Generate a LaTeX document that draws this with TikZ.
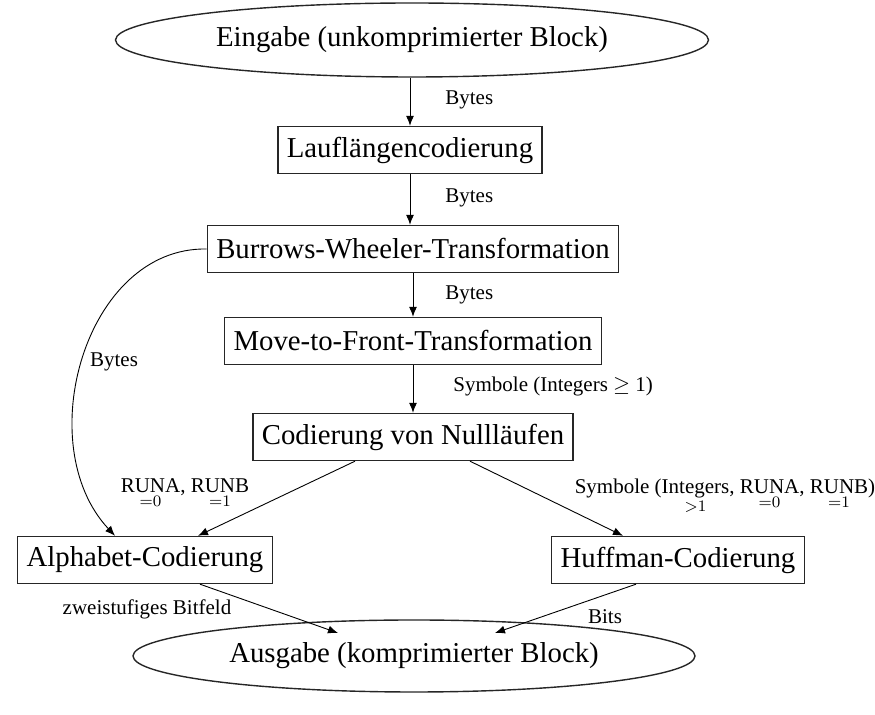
\documentclass[tikz,border=0pt]{standalone}
\usepackage{amsmath}
\usepackage{fontspec}
\setmainfont{Liberation Serif}
\usetikzlibrary{shapes.geometric,arrows.meta,calc}
\newcommand{\undr}[2]{\underset{\text{\fontsize{8.2}{8.2}\selectfont$#2$}}{\text{#1}}}
\begin{document}
\begin{tikzpicture}[x=0.5pt,y=-0.5pt,
  box/.style={draw=black!85, line width=0.7pt, rectangle, font=\fontsize{14.4}{17}\selectfont, inner xsep=4.5pt, minimum height=23.5pt},
  ell/.style={draw=black!85, line width=0.7pt, ellipse, font=\fontsize{14.4}{17}\selectfont, inner sep=0pt},
  lbl/.style={font=\fontsize{10.5}{12.5}\selectfont, inner sep=0pt},
  arr/.style={-{Latex[length=5pt,width=4pt]}, line width=0.45pt}]
\useasboundingbox (0,0) rectangle (875,715);
\node[ell, minimum width=296.5pt, minimum height=37pt] (in) at (412,40) {Eingabe (unkomprimierter Block)};
\node[box] (rle) at (410,150) {Lauflängencodierung};
\node[box] (bwt) at (413,249) {Burrows-Wheeler-Transformation};
\node[box] (mtf) at (413,341) {Move-to-Front-Transformation};
\node[box] (nul) at (413,437) {Codierung von Nullläufen};
\node[box] (alph) at (145,560) {Alphabet-Codierung};
\node[box] (huf) at (678,560) {Huffman-Codierung};
\node[ell, minimum width=281pt, minimum height=36pt] (out) at (414,656) {Ausgabe (komprimierter Block)};

\draw[arr] (in.south -| rle.north) -- (rle.north);
\draw[arr] (rle.south) -- (rle.south |- bwt.north);
\draw[arr] (bwt.south) -- (mtf.north);
\draw[arr] (mtf.south) -- (nul.north);
\draw[arr] ($(nul.south)+(-58,0)$) -- ($(alph.north)+(53,0)$);
\draw[arr] ($(nul.south)+(57,0)$) -- ($(huf.north)+(-55,0)$);
\draw[arr] (bwt.west) .. controls (85,247) and (30,445) .. ($(alph.north)+(-30,0)$);
\draw[arr] ($(alph.south)+(55,0)$) -- ($(out.center)+(-76,-23)$);
\draw[arr] ($(huf.south)+(-42,0)$) -- ($(out.center)+(81,-23)$);

\node[lbl, anchor=west] (l1) at (445,100) {Bytes};
\node[lbl, anchor=west] (l2) at (445,198) {Bytes};
\node[lbl, anchor=west] (l3) at (445,295) {Bytes};
\node[lbl, anchor=west] (l4) at (453,386) {Symbole (Integers $\geq$ 1)};
\node[lbl] (l5) at (114,362) {Bytes};
\node[lbl] (l6) at (185,494) {$\undr{RUNA}{\mathord{=}0}$, $\undr{RUNB}{\mathord{=}1}$};
\node[lbl] (l7) at (725,497) {Symbole ($\undr{Integers}{\mathord{>}1}$, $\undr{RUNA}{\mathord{=}0}$, $\undr{RUNB}{\mathord{=}1}$)};
\node[lbl] (l8) at (147,609) {zweistufiges Bitfeld};
\node[lbl] (l9) at (605,617) {Bits};
\end{tikzpicture}
\end{document}
